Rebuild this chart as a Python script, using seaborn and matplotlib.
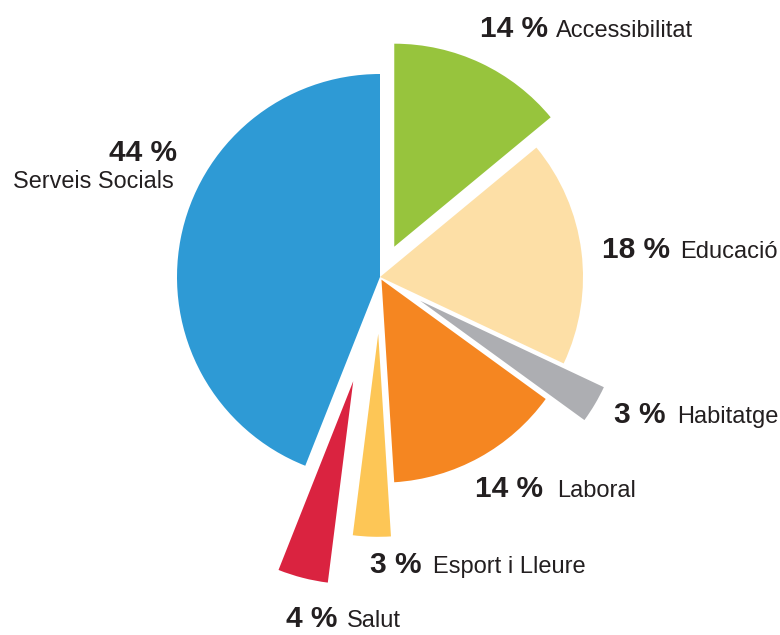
import matplotlib
matplotlib.use('Agg')
import matplotlib.pyplot as plt
import seaborn as sns

# Data
categories = ['Accessibilitat', 'Educació', 'Habitatge', 'Laboral',
              'Esport i Lleure', 'Salut', 'Serveis Socials']
shares = [14, 18, 3, 14, 3, 4, 44]
pct_labels = ['14 %', '18 %', '3 %', '14 %', '3 %', '4 %', '44 %']
explode = [0.165, 0.0, 0.23, 0.015, 0.28, 0.53, 0.0]
colors = sns.color_palette(['#97C43D', '#FDDFA6', '#ADAEB2', '#F58621',
                            '#FDC656', '#DA2340', '#2E9AD5'])

W, H = 780, 635
R_PX = 203.0       # pie radius in pixels
CX, CY = 380, 277  # pie centre, pixels from top-left

sns.set_style('white')
plt.rcParams['font.family'] = ['Liberation Sans', 'DejaVu Sans']

fig = plt.figure(figsize=(W / 100, H / 100), dpi=100)
ax = fig.add_axes([0, 0, 1, 1])
ax.pie(shares, explode=explode, colors=colors, startangle=90,
       counterclock=False, radius=1.0, wedgeprops=dict(linewidth=0))
ax.set_aspect('auto')
ax.set_xlim(-CX / R_PX, (W - CX) / R_PX)
ax.set_ylim(-(H - CY) / R_PX, CY / R_PX)
ax.axis('off')

# label placement (pixels): right edge of bold %, left edge of name, baseline
label_pos = {
    'Accessibilitat': (548, 556, 37),
    'Educació': (670, 680, 258),
    'Habitatge': (665, 677, 423),
    'Laboral': (543, 557, 497),
    'Esport i Lleure': (422, 433, 573),
    'Salut': (337, 347, 627),
}
txt = '#231F20'
for cat, pct in zip(categories, pct_labels):
    if cat == 'Serveis Socials':
        fig.text(177 / W, 1 - 161 / H, pct, ha='right', va='baseline',
                 fontsize=21.5, fontweight='bold', color=txt)
        fig.text(174 / W, 1 - 188 / H, cat, ha='right', va='baseline',
                 fontsize=16.8, color=txt)
        continue
    xb, xn, y = label_pos[cat]
    fig.text(xb / W, 1 - y / H, pct, ha='right', va='baseline',
             fontsize=21.5, fontweight='bold', color=txt)
    fig.text(xn / W, 1 - y / H, cat, ha='left', va='baseline',
             fontsize=17, color=txt)

plt.savefig('out.png', dpi=100)
